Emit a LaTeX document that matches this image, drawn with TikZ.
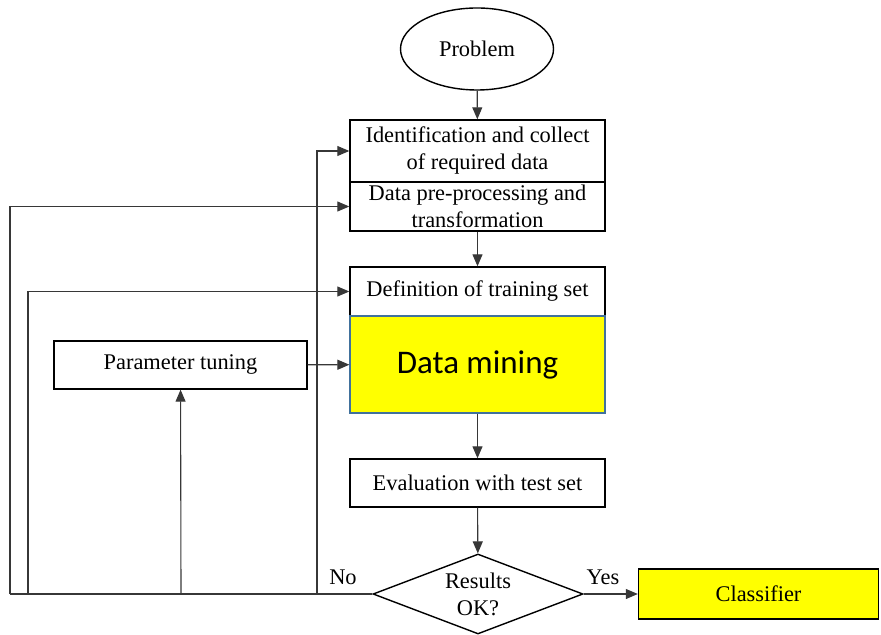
\documentclass[tikz,border=0pt]{standalone}
\usepackage{fontspec}
\setmainfont{Liberation Serif}
\newfontfamily\dmfont{Carlito}
\usetikzlibrary{shapes.geometric,arrows.meta}
\definecolor{hiyellow}{RGB}{255,255,0}
\definecolor{dmborder}{RGB}{65,113,156}
\definecolor{linkgray}{RGB}{55,55,55}
\begin{document}
\begin{tikzpicture}[x=0.5pt,y=-0.5pt,
    font=\fontsize{11.2}{13.5}\selectfont,
    box/.style={rectangle,draw=black,line width=0.7pt,align=center,
      minimum width=127.5pt,inner sep=1pt},
    link/.style={draw=linkgray,line width=0.55pt,-{Triangle[length=6pt,width=5pt]}}]
  \useasboundingbox (0,0) rectangle (881,635);
  \begin{scope}
    \node[ellipse,draw=black,line width=0.7pt,minimum width=76.5pt,minimum height=41pt] (prob) at (477,49) {Problem};
    \node[box,minimum height=31pt] (ident) at (477.5,151) {Identification and collect\\of required data};
    \node[box,minimum height=24.5pt] (prep) at (477.5,206.5) {Data pre-processing and\\transformation};
    \node[box,minimum height=24.5pt] (train) at (477.5,291.5) {Definition of training set};
    \node[box,minimum height=48.5pt,fill=hiyellow,draw=dmborder,line width=0.6pt,
      font=\dmfont\fontsize{16.5}{19}\selectfont] (mine) at (477.5,364.5) {Data mining};
    \node[box,minimum width=126.5pt,minimum height=24pt] (tune) at (180.5,365) {Parameter tuning};
    \node[box,minimum height=24pt] (eval) at (477.5,483) {Evaluation with test set};
    \node[diamond,draw=black,line width=0.7pt,align=center,inner sep=0pt,
      minimum width=105pt,minimum height=40pt,shape aspect=2.6] (res) at (478,594) {Results\\OK?};
    \node[box,minimum width=120pt,minimum height=25pt,fill=hiyellow] (cls) at (758.5,594) {Classifier};
    \node (lno) at (343,577) {No};
    \node (lyes) at (603,577) {Yes};
  \end{scope}
  \coordinate (l1) at (10,594);
  \coordinate (l2) at (28,594);
  \coordinate (l3) at (181,594);
  \coordinate (l4) at (317,594);
  \begin{scope}[every edge/.style={link}]
    \path (prob) edge (ident);
    \path (prep) edge (train);
    \path (mine) edge (eval);
    \path (eval) edge (res);
    \path (res) edge (cls);
    \path (tune) edge (mine);
    \path (l3) edge (tune);
  \end{scope}
  \draw[draw=linkgray,line width=0.55pt] (res.west) -- (l1);
  \draw[link] (l1) |- (prep.west);
  \draw[link] (l2) |- (train.west);
  \draw[link] (l4) |- (ident.west);
\end{tikzpicture}
\end{document}
